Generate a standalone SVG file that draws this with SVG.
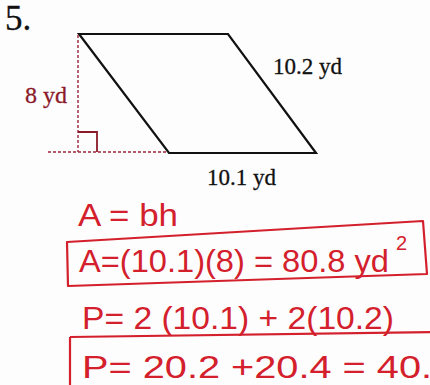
<svg xmlns="http://www.w3.org/2000/svg" width="430" height="385" viewBox="0 0 430 385">
<style>
.print{font-family:"Liberation Serif",serif;fill:#111;stroke:#111;stroke-width:0.3}
.hand{font-family:"Liberation Sans",sans-serif;fill:#d3202c}
.edge{stroke:#111;stroke-width:2.2;fill:none;stroke-linejoin:miter}
.dash{stroke:#9a2338;stroke-width:1.4;stroke-dasharray:3 2;fill:none}
.box{stroke:#d3202c;stroke-width:2.2;fill:none;stroke-linejoin:round}
</style>
<rect width="430" height="385" fill="#fdfdfd"/>
<text class="print" x="5" y="30" font-size="35" stroke-width="0.8">5.</text>
<g id="shape">
<polygon class="edge" points="79,34 228,34 316,153 169,153"/>
</g>
<g id="connectors">
<line class="dash" x1="78" y1="35" x2="78" y2="152"/>
<line class="dash" x1="48" y1="152" x2="168" y2="152"/>
<polyline points="78,132 97,132 97,152" fill="none" stroke="#8a1a28" stroke-width="1.8"/>
</g>
<g id="labels">
<text x="25" y="103" font-size="24" font-family="Liberation Serif,serif" fill="#8a1a28" stroke="#8a1a28" stroke-width="0.3">8 yd</text>
<text class="print" x="273" y="74" font-size="23">10.2 yd</text>
<text class="print" x="207" y="185" font-size="23">10.1 yd</text>
</g>
<g id="work">
<text class="hand" x="78" y="226" font-size="32" textLength="100" lengthAdjust="spacingAndGlyphs">A = bh</text>
<path class="box" d="M67,242 L423,221 L427,274 L68,286 Z"/>
<text class="hand" x="79" y="272" font-size="32" textLength="310" lengthAdjust="spacingAndGlyphs">A=(10.1)(8) = 80.8 yd</text>
<text class="hand" x="396" y="250" font-size="20">2</text>
<text class="hand" x="82" y="329" font-size="32" textLength="312" lengthAdjust="spacingAndGlyphs">P= 2 (10.1) + 2(10.2)</text>
<path class="box" d="M70,337 L432,332 M70,337 L70,385"/>
<text class="hand" x="82" y="378" font-size="32" textLength="350" lengthAdjust="spacingAndGlyphs">P= 20.2 +20.4  = 40.</text>
</g>
</svg>
